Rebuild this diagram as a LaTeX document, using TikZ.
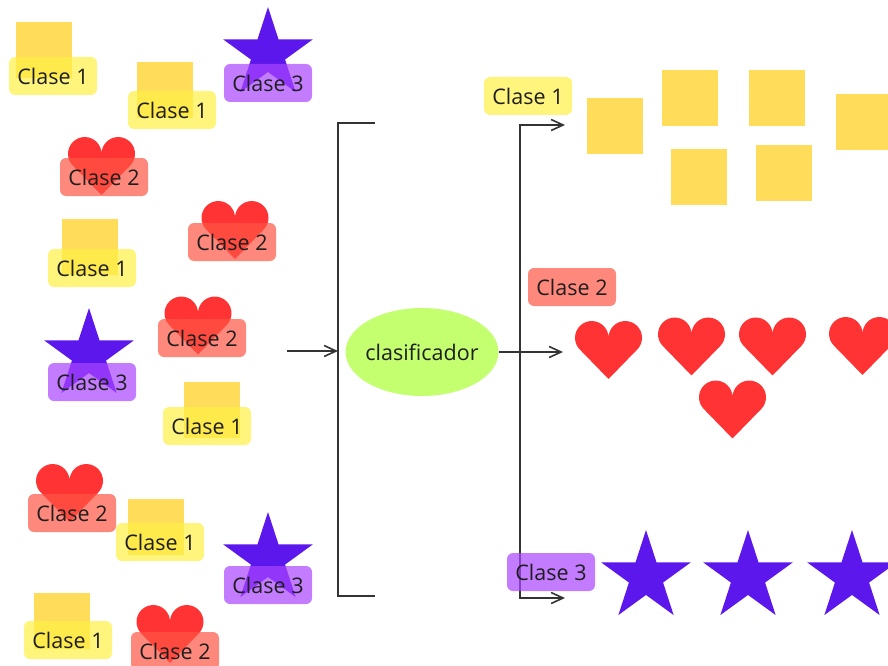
\documentclass[tikz,border=0pt]{standalone}
\usepackage{fontspec}
\setmainfont{Open Sans}
\usetikzlibrary{arrows.meta, shapes.geometric}

\definecolor{sqyellow}{HTML}{FFDC5A}
\definecolor{tagyellow}{HTML}{FFF045}
\definecolor{heartred}{HTML}{FF3333}
\definecolor{tagred}{HTML}{FF5545}
\definecolor{starpurple}{HTML}{5C17EC}
\definecolor{tagpurple}{HTML}{AA44FF}
\definecolor{clfgreen}{HTML}{C4FF70}
\definecolor{linegray}{HTML}{333333}
\definecolor{textdark}{HTML}{1E1E1E}

\begin{document}
\begin{tikzpicture}[
  x=1pt, y=-1pt,
  sq/.style={rectangle, fill=sqyellow, minimum size=56pt, inner sep=0pt},
  starnode/.style={star, star points=5, star point ratio=2.618, fill=starpurple, minimum size=94pt, inner sep=0pt},
  heart/.pic={
    \fill[heartred] (0,0.865) -- (-0.858,-0.016)
      arc[start angle=-224.2, end angle=0, radius=0.5]
      arc[start angle=-180, end angle=44.2, radius=0.5] -- cycle;
  },
  tag/.style={rounded corners=6pt, minimum width=88pt, minimum height=38pt, inner sep=0pt,
    fill opacity=0.7, text opacity=1, text=textdark, font=\fontsize{21.5}{25}\selectfont},
  tagA/.style={tag, fill=tagyellow},
  tagB/.style={tag, fill=tagred},
  tagC/.style={tag, fill=tagpurple},
  link/.style={draw=linegray, line width=1.6pt},
  arrow/.style={link, -{Straight Barb[length=12pt, width=11pt]}}
]
\useasboundingbox (0,0) rectangle (888,666);
\clip (0,0) rectangle (888,666);

% mixed samples
\node[sq] (sqA) at (44,50) {};
\node[sq] (sqB) at (164.5,90) {};
\node[sq] (sqC) at (89.5,247) {};
\node[sq] (sqD) at (211.5,410) {};
\node[sq] (sqE) at (156,527) {};
\node[sq] (sqF) at (61.5,621) {};
\pic[scale=33.5] (hA) at (101.5,166) {heart};
\pic[scale=33.5] (hB) at (235,230) {heart};
\pic[scale=33.5] (hC) at (198,325.5) {heart};
\pic[scale=33.5] (hD) at (69.5,493) {heart};
\pic[scale=33.5] (hE) at (170,634) {heart};
\node[starnode] (stA) at (268,54) {};
\node[starnode] (stB) at (89,355) {};
\node[starnode] (stC) at (268,559) {};

% sorted samples
\node[sq] (outSqA) at (614.5,126) {};
\node[sq] (outSqB) at (690,98) {};
\node[sq] (outSqC) at (777,98) {};
\node[sq] (outSqD) at (864,122) {};
\node[sq] (outSqE) at (698.5,177) {};
\node[sq] (outSqF) at (783.5,172.5) {};
\pic[scale=33.5] (outHA) at (608.5,350) {heart};
\pic[scale=33.5] (outHB) at (691.5,346.5) {heart};
\pic[scale=33.5] (outHC) at (772.5,346.5) {heart};
\pic[scale=33.5] (outHD) at (862.5,346) {heart};
\pic[scale=33.5] (outHE) at (732.5,409.5) {heart};
\node[starnode] (outStA) at (646,577) {};
\node[starnode] (outStB) at (748,577) {};
\node[starnode] (outStC) at (852,577) {};

% bracket and classifier
\coordinate (brTop) at (375,123);
\coordinate (brTopL) at (338,123);
\coordinate (brBotL) at (338,596);
\coordinate (brBot) at (375,596);
\coordinate (in) at (287,351);
\draw[link] (brTop) -- (brTopL) -- (brBotL) -- (brBot);
\draw[arrow] (in) -- (in -| brTopL);

\node[ellipse, fill=clfgreen, minimum width=153pt, minimum height=88pt, inner xsep=-3pt, inner ysep=0pt,
  text=textdark, font=\fontsize{21.5}{25}\selectfont] (clf) at (422,352) {clasificador};

\coordinate (split) at (520,352);
\coordinate (outA) at (565,125);
\coordinate (outB) at (563,352);
\coordinate (outC) at (565,598);
\draw[arrow] (clf.east) -- (outB);
\draw[arrow] (split) |- (outA);
\draw[arrow] (split) |- (outC);

% labels
\node[tagA] (tA) at (53,76) {Clase 1};
\node[tagA] (tB) at (172,110) {Clase 1};
\node[tagC] (tC) at (268,83) {Clase 3};
\node[tagB] (tD) at (104,177) {Clase 2};
\node[tagA] (tE) at (92,268) {Clase 1};
\node[tagB] (tF) at (232,242) {Clase 2};
\node[tagC] (tG) at (92,382) {Clase 3};
\node[tagB] (tH) at (202,338) {Clase 2};
\node[tagA] (tI) at (207,426) {Clase 1};
\node[tagB] (tJ) at (72,513) {Clase 2};
\node[tagA] (tK) at (160,542) {Clase 1};
\node[tagC] (tL) at (268,585) {Clase 3};
\node[tagA] (tM) at (68,640) {Clase 1};
\node[tagB] (tN) at (175,651) {Clase 2};
\node[tagA] (outTA) at (528,96) {Clase 1};
\node[tagB] (outTB) at (572,287) {Clase 2};
\node[tagC] (outTC) at (551,572) {Clase 3};
\end{tikzpicture}
\end{document}
